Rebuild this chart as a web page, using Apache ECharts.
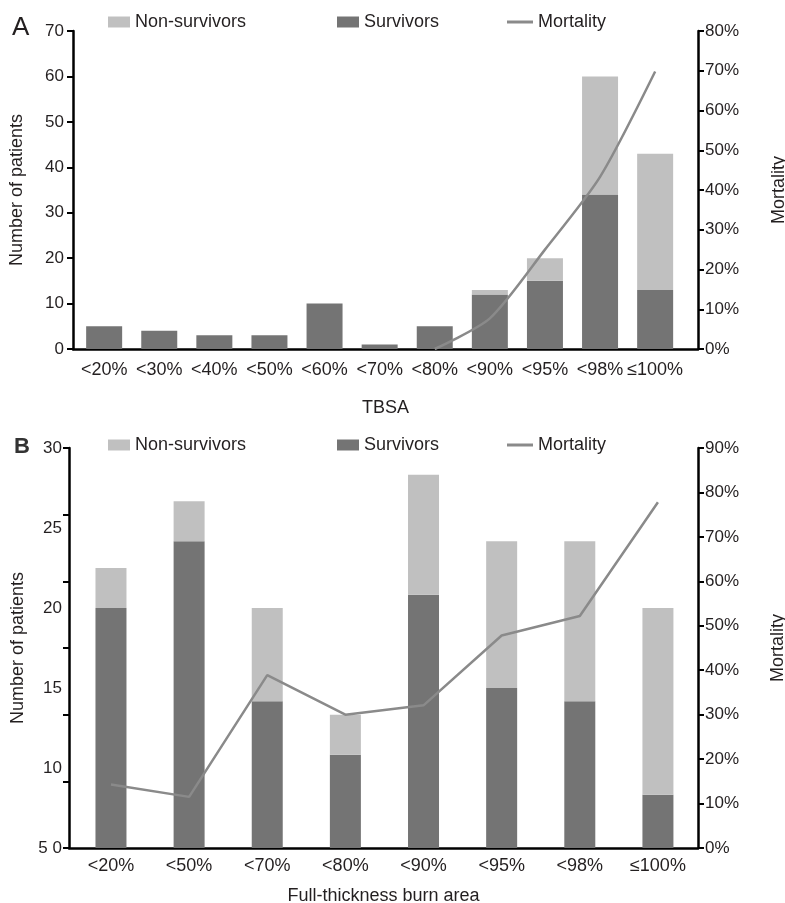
<!DOCTYPE html>
<html>
<head>
<meta charset="utf-8">
<script src="https://cdn.jsdelivr.net/npm/echarts@6/dist/echarts.min.js"></script>
<style>
  html, body { margin: 0; padding: 0; background: #fff; }
  #chart { width: 785px; height: 903px; }
</style>
</head>
<body>
<div id="chart"></div>
<script>
// Panel A: patients by TBSA band
const aCategories = ['<20%', '<30%', '<40%', '<50%', '<60%', '<70%', '<80%', '<90%', '<95%', '<98%', '≤100%'];
const aSurvivors = [5, 4, 3, 3, 10, 1, 5, 12, 15, 34, 13];
const aNonSurvivors = [0, 0, 0, 0, 0, 0, 0, 1, 5, 26, 30];
const aMortality = [null, null, null, null, null, null, 0, 7.7, 25, 43.3, 69.8];

// Panel B: patients by full-thickness burn area
const bCategories = ['<20%', '<50%', '<70%', '<80%', '<90%', '<95%', '<98%', '≤100%'];
const bSurvivors = [18, 23, 11, 7, 19, 12, 11, 4];
const bNonSurvivors = [3, 3, 7, 3, 9, 11, 12, 14];
const bMortality = [14.3, 11.5, 38.9, 30, 32.1, 47.8, 52.2, 77.8];

// Left-axis tick marks and tick labels of panel B
const bLeftTickValues = [0, 5, 10, 15, 20, 25, 30];
const bLeftLabelValues = [0, 6, 12, 18, 24, 30];
const bLeftLabelTexts = ['5 0', '10', '15', '20', '25', '30'];

const FONT = "'Liberation Sans', Arial, Helvetica, sans-serif";
const TEXT = '#231f20';
const LIGHT = '#c0c0c0';
const DARK = '#747474';
const LINE = '#8a8a8a';

const axisLine = { show: true, onZero: false, lineStyle: { color: '#000', width: 2.5 } };
const tick = { show: true, length: 6, lineStyle: { color: '#000', width: 2 } };
const hidden = { show: false };

// Category axis that carries the labels (its own line is hidden)
function catAxis(gridIndex, cats, labelMargin) {
  return {
    type: 'category', gridIndex, data: cats,
    axisLine: hidden, axisTick: hidden, splitLine: hidden,
    axisLabel: { fontSize: 18, color: TEXT, fontFamily: FONT, margin: labelMargin, interval: 0 }
  };
}

// Frame axis: draws the full-width baseline and the axis title
function frameXAxis(gridIndex, name, nameGap) {
  return {
    type: 'value', gridIndex, min: 0, max: 1,
    axisLine, axisTick: hidden, axisLabel: hidden, splitLine: hidden,
    name, nameLocation: 'middle', nameGap,
    nameTextStyle: { fontSize: 18, color: TEXT, fontFamily: FONT }
  };
}

function legendItem(name, left, top, w, h) {
  return {
    data: [{ name, icon: 'rect' }], left, top, padding: 0,
    itemWidth: w, itemHeight: h, selectedMode: false,
    textStyle: { fontSize: 18, color: TEXT, fontFamily: FONT }
  };
}

function grid(left, right, top, bottom) {
  return { left, right, top, bottom, containLabel: false, outerBoundsMode: 'none' };
}

const chart = echarts.init(document.getElementById('chart'), null, { renderer: 'canvas' });

chart.setOption({
  animation: false,
  backgroundColor: '#fff',
  title: [
    { text: 'A', left: 12, top: 15, padding: 0, textStyle: { fontSize: 26, fontWeight: 'normal', color: TEXT, fontFamily: FONT } },
    { text: 'B', left: 14, top: 436, padding: 0, textStyle: { fontSize: 22, fontWeight: 'bold', color: '#333', fontFamily: FONT } }
  ],
  legend: [
    legendItem('Non-survivors', 108, 13, 22, 11),
    legendItem('Survivors', 337, 13, 22, 11),
    legendItem('Mortality', 507, 13, 26, 3),
    legendItem('Non-survivors', 108, 436, 22, 11),
    legendItem('Survivors', 337, 436, 22, 11),
    legendItem('Mortality', 507, 436, 26, 3)
  ],
  grid: [
    grid(76.6, 102.3, 31, 554),
    grid(73, 87, 31, 554),
    grid(71.9, 88, 448, 55),
    grid(69, 87, 448, 55)
  ],
  xAxis: [
    catAxis(0, aCategories, 12),
    frameXAxis(1, 'TBSA', 50),
    catAxis(2, bCategories, 9),
    frameXAxis(3, 'Full-thickness burn area', 39)
  ],
  yAxis: [
    {
      type: 'value', gridIndex: 0, min: 0, max: 70, interval: 10, position: 'left', offset: 3.6,
      axisLine, axisTick: tick, splitLine: hidden,
      axisLabel: { fontSize: 17, color: TEXT, fontFamily: FONT, margin: 9 },
      name: 'Number of patients', nameLocation: 'middle', nameGap: 47,
      nameTextStyle: { fontSize: 18, color: TEXT, fontFamily: FONT }
    },
    {
      type: 'value', gridIndex: 0, min: 0, max: 80, interval: 10, position: 'right', offset: 15.3,
      axisLine, axisTick: tick, splitLine: hidden,
      axisLabel: { fontSize: 17, color: TEXT, fontFamily: FONT, margin: 7, formatter: '{value}%' },
      name: 'Mortality', nameLocation: 'middle', nameGap: 72, nameRotate: 90,
      nameTextStyle: { fontSize: 18, color: TEXT, fontFamily: FONT }
    },
    { type: 'value', gridIndex: 1, min: 0, max: 1, show: false },
    {
      type: 'value', gridIndex: 2, min: 0, max: 30, position: 'left', offset: 2.9,
      axisLine,
      axisTick: Object.assign({}, tick, { customValues: bLeftTickValues }),
      splitLine: hidden,
      axisLabel: {
        customValues: bLeftLabelValues,
        formatter: v => bLeftLabelTexts[bLeftLabelValues.indexOf(Math.round(v))],
        fontSize: 17, color: TEXT, fontFamily: FONT, margin: 7
      },
      name: 'Number of patients', nameLocation: 'middle', nameGap: 41.5,
      nameTextStyle: { fontSize: 18, color: TEXT, fontFamily: FONT }
    },
    {
      type: 'value', gridIndex: 2, min: 0, max: 90, interval: 10, position: 'right', offset: 1,
      axisLine, axisTick: tick, splitLine: hidden,
      axisLabel: { fontSize: 17, color: TEXT, fontFamily: FONT, margin: 7, formatter: '{value}%' },
      name: 'Mortality', nameLocation: 'middle', nameGap: 71, nameRotate: 90,
      nameTextStyle: { fontSize: 18, color: TEXT, fontFamily: FONT }
    },
    { type: 'value', gridIndex: 3, min: 0, max: 1, show: false }
  ],
  series: [
    {
      name: 'Survivors', type: 'bar', xAxisIndex: 0, yAxisIndex: 0, stack: 'a',
      barWidth: 36, itemStyle: { color: DARK }, data: aSurvivors
    },
    {
      name: 'Non-survivors', type: 'bar', xAxisIndex: 0, yAxisIndex: 0, stack: 'a',
      barWidth: 36, itemStyle: { color: LIGHT }, data: aNonSurvivors
    },
    {
      name: 'Mortality', type: 'line', xAxisIndex: 0, yAxisIndex: 1,
      symbol: 'none', smooth: 0.25, lineStyle: { color: LINE, width: 2.5 },
      itemStyle: { color: LINE }, data: aMortality
    },
    {
      name: 'Survivors', type: 'bar', xAxisIndex: 2, yAxisIndex: 3, stack: 'b',
      barWidth: 31, itemStyle: { color: DARK }, data: bSurvivors
    },
    {
      name: 'Non-survivors', type: 'bar', xAxisIndex: 2, yAxisIndex: 3, stack: 'b',
      barWidth: 31, itemStyle: { color: LIGHT }, data: bNonSurvivors
    },
    {
      name: 'Mortality', type: 'line', xAxisIndex: 2, yAxisIndex: 4,
      symbol: 'none', lineStyle: { color: LINE, width: 2.5 },
      itemStyle: { color: LINE }, data: bMortality
    }
  ]
});
</script>
</body>
</html>
